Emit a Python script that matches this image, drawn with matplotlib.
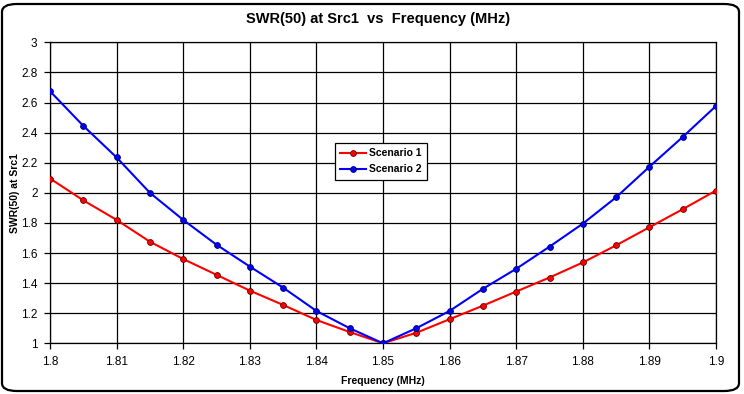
import matplotlib
matplotlib.use("Agg")
import matplotlib.pyplot as plt
from matplotlib.patches import FancyBboxPatch
import numpy as np

freq = [1.800, 1.805, 1.810, 1.815, 1.820, 1.825, 1.830, 1.835, 1.840, 1.845, 1.850,
        1.855, 1.860, 1.865, 1.870, 1.875, 1.880, 1.885, 1.890, 1.895, 1.900]
scenario1 = [2.095, 1.95, 1.82, 1.675, 1.56, 1.455, 1.35, 1.255, 1.155, 1.075, 1.0,
             1.07, 1.16, 1.25, 1.344, 1.437, 1.537, 1.651, 1.771, 1.891, 2.015]
scenario2 = [2.675, 2.445, 2.235, 2.0, 1.82, 1.655, 1.51, 1.37, 1.215, 1.10, 1.0,
             1.10, 1.215, 1.362, 1.495, 1.642, 1.795, 1.97, 2.173, 2.371, 2.577]
xticks = [1.8, 1.81, 1.82, 1.83, 1.84, 1.85, 1.86, 1.87, 1.88, 1.89, 1.9]
yticks = [1, 1.2, 1.4, 1.6, 1.8, 2, 2.2, 2.4, 2.6, 2.8, 3]

plt.rcParams['font.family'] = ['Liberation Sans', 'DejaVu Sans']

W, H = 744, 394
fig = plt.figure(figsize=(W / 100, H / 100), dpi=100)

# outer rounded frame
frame = FancyBboxPatch((2 / W, 3 / H), (737 / W), (387 / H),
                       boxstyle="round,pad=0,rounding_size=0.02",
                       transform=fig.transFigure, facecolor='white',
                       edgecolor='black', linewidth=1.6, zorder=-10)
fig.patches.append(frame)

ax = fig.add_axes([50 / W, (H - 343.3) / H, (716 - 50) / W, (343.3 - 42.3) / H])
ax.set_facecolor('white')
ax.set_zorder(1)

ax.plot(freq, scenario1, color='#ff0000', lw=1.5, marker='o', markersize=4.2,
        markerfacecolor='#ff0000', markeredgecolor='#600000', markeredgewidth=0.6,
        label='Scenario 1', zorder=3)
ax.plot(freq, scenario2, color='#0000ff', lw=1.5, marker='o', markersize=4.2,
        markerfacecolor='#0000ff', markeredgecolor='#000060', markeredgewidth=0.6,
        label='Scenario 2', zorder=3)

ax.set_xlim(1.8, 1.9)
ax.set_ylim(1, 3)
ax.set_xticks(xticks)
ax.set_xticklabels([f"{t:g}" for t in xticks])
ax.set_yticks(yticks)
ax.set_yticklabels([f"{t:g}" for t in yticks])
ax.grid(True, color='black', lw=0.9)
ax.set_axisbelow(True)
for s in ax.spines.values():
    s.set_color('black')
    s.set_linewidth(0.9)
ax.tick_params(direction='out', length=4, width=0.9, labelsize=8.5, pad=5, colors='black')

ax.set_xlabel('Frequency (MHz)', fontsize=7.5, fontweight='bold', labelpad=6)
ax.set_ylabel('SWR(50) at Src1', fontsize=7.5, fontweight='bold', va='center')
ax.yaxis.set_label_coords((15 - 50) / 666, 0.5)

fig.text(378 / W, 1 - 19 / H, 'SWR(50) at Src1  vs  Frequency (MHz)',
         ha='center', va='center', fontsize=10.5, fontweight='bold', zorder=5)

leg = ax.legend(loc='upper left', bbox_to_anchor=((335 - 50) / 666, (343.3 - 143) / 301),
                frameon=True, fancybox=False, prop={'weight': 'bold', 'size': 7.5},
                borderpad=0.5, handlelength=2.5, handletextpad=0.3, labelspacing=0.6,
                borderaxespad=0, framealpha=1)
leg.get_frame().set_edgecolor('black')
leg.get_frame().set_linewidth(0.9)

fig.savefig('out.png', dpi=100)
